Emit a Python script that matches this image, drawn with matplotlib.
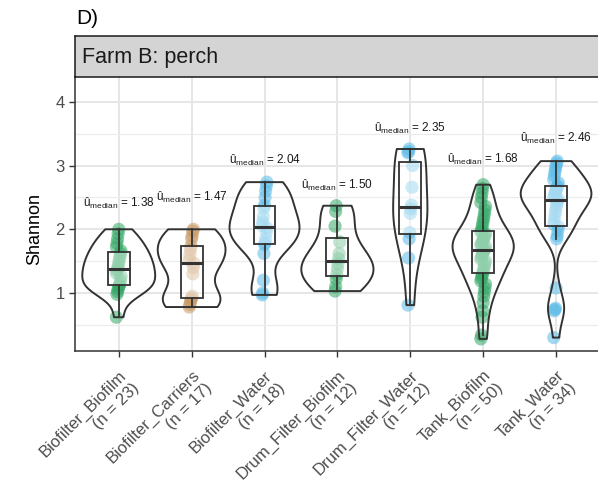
import numpy as np
import matplotlib
import matplotlib.pyplot as plt

matplotlib.use('Agg')

# data (Shannon index per sample)
groups = ["Biofilter_Biofilm", "Biofilter_Carriers", "Biofilter_Water",
          "Drum_Filter_Biofilm", "Drum_Filter_Water", "Tank_Biofilm", "Tank_Water"]

biofilter_biofilm = [0.62, 0.98, 1.02, 1.06, 1.10, 1.12, 1.14, 1.20, 1.26, 1.31, 1.35, 1.38,
                     1.42, 1.47, 1.52, 1.57, 1.62, 1.66, 1.72, 1.78, 1.85, 1.93, 2.00]
biofilter_carriers = [0.78, 0.82, 0.86, 0.90, 0.92, 0.95, 1.30, 1.40, 1.47, 1.52, 1.60, 1.68,
                      1.74, 1.85, 1.90, 1.97, 2.00]
biofilter_water = [0.97, 1.00, 1.20, 1.62, 1.76, 1.79, 1.85, 1.95, 2.02, 2.06, 2.12, 2.20,
                   2.33, 2.38, 2.50, 2.60, 2.68, 2.74]
drum_filter_biofilm = [1.03, 1.10, 1.22, 1.29, 1.38, 1.46, 1.54, 1.62, 1.80, 2.05, 2.28, 2.37]
drum_filter_water = [0.81, 1.55, 1.85, 1.95, 2.25, 2.32, 2.38, 2.66, 3.00, 3.20, 3.22, 3.26]
tank_biofilm = [0.28, 0.34, 0.62, 0.72, 0.85, 0.95, 1.02, 1.08, 1.14, 1.19, 1.23, 1.27,
                1.30, 1.34, 1.38, 1.42, 1.46, 1.50, 1.53, 1.56, 1.59, 1.62, 1.64, 1.66,
                1.67, 1.69, 1.73, 1.75, 1.77, 1.79, 1.81, 1.83, 1.86, 1.88, 1.91, 1.93,
                1.96, 1.975, 2.03, 2.08, 2.13, 2.18, 2.24, 2.30, 2.36, 2.42, 2.50, 2.57,
                2.64, 2.70]
tank_water = [0.30, 0.72, 0.74, 0.76, 1.08, 1.85, 1.90, 1.98, 2.04, 2.08, 2.15, 2.22,
              2.28, 2.34, 2.39, 2.43, 2.45, 2.47, 2.50, 2.53, 2.56, 2.59, 2.61, 2.63,
              2.66, 2.68, 2.73, 2.78, 2.84, 2.90, 2.95, 3.00, 3.04, 3.07]

values = [biofilter_biofilm, biofilter_carriers, biofilter_water, drum_filter_biofilm,
          drum_filter_water, tank_biofilm, tank_water]
medians = [1.38, 1.47, 2.04, 1.50, 2.35, 1.68, 2.46]

# layout: label heights and violin widths as seen in the reference
label_y = [2.40, 2.50, 3.08, 2.69, 3.59, 3.09, 3.43]
violin_width = [1.0, 0.93, 0.96, 0.99, 0.47, 0.84, 0.97]

green = '#33a865'
tan = '#c99a66'
blue = '#5bbbe8'
colors = [green, tan, blue, green, blue, green, blue]

plt.rcParams['font.family'] = ['Liberation Sans', 'DejaVu Sans']
plt.rcParams['mathtext.fontset'] = 'custom'
plt.rcParams['mathtext.rm'] = 'Liberation Sans'
plt.rcParams['mathtext.it'] = 'Liberation Sans'

dark = '#333333'
fig = plt.figure(figsize=(5.98, 4.90), dpi=100)
left, bottom, top = 75 / 598, 1 - 351 / 490, 1 - 77 / 490
width = 1.003 - left
ax = fig.add_axes([left, bottom, width, top - bottom])

pos = np.arange(1, len(groups) + 1)


def nrd0(x):
    q25, q75 = np.percentile(x, [25, 75])
    lo = min(np.std(x, ddof=1), (q75 - q25) / 1.34)
    return 0.9 * lo * len(x) ** -0.2


for i, vals in enumerate(values):
    x = np.asarray(vals)
    k = np.arange(len(x))
    jit = ((k * 37) % 9 - 4) * 0.008
    ax.scatter(pos[i] + jit, x, s=90, color=colors[i], alpha=0.55,
               edgecolors='none', zorder=2)

    # kernel density trimmed to the data range
    bw = nrd0(x)
    ys = np.linspace(x.min(), x.max(), 256)
    d = np.exp(-0.5 * ((ys[:, None] - x[None, :]) / bw) ** 2).sum(axis=1)
    hw = d / d.max() * violin_width[i] / 2
    ax.fill_betweenx(ys, pos[i] - hw, pos[i] + hw, facecolor='none',
                     edgecolor=dark, lw=1.4, zorder=3)

    ax.text(pos[i], label_y[i], 'û$_{\\mathrm{median}}$ = %.2f' % medians[i],
            ha='center', va='center', fontsize=8.5, color='#1a1a1a', zorder=5)

ax.boxplot(values, positions=pos, widths=0.3, showfliers=False, showcaps=False,
           patch_artist=True, zorder=4,
           boxprops=dict(facecolor=(1, 1, 1, 0.45), edgecolor=dark, lw=1.3),
           whiskerprops=dict(color=dark, lw=1.3),
           medianprops=dict(color=dark, lw=2.2))

ax.set_xlim(0.4, 7.6)
ax.set_ylim(0.09, 4.39)
ax.set_xticks(pos)
ax.set_xticklabels(['%s\n(n = %d)' % (g, len(v)) for g, v in zip(groups, values)],
                   rotation=45, ha='right', rotation_mode='anchor',
                   multialignment='right', fontsize=12.5, color='#4d4d4d')
ax.set_yticks([1, 2, 3, 4])
ax.set_yticks([0.5, 1.5, 2.5, 3.5], minor=True)
ax.tick_params(axis='y', which='minor', length=0)
ax.tick_params(which='major', length=4, width=1, color=dark, labelsize=12,
               labelcolor='#4d4d4d')
ax.tick_params(axis='x', pad=8)
ax.grid(True, which='major', color='#e6e6e6', lw=1.4)
ax.grid(True, which='minor', axis='y', color='#ececec', lw=0.9)
ax.set_axisbelow(True)
for s in ['top', 'right']:
    ax.spines[s].set_visible(False)
for s in ['left', 'bottom']:
    ax.spines[s].set_color(dark)
    ax.spines[s].set_linewidth(1.1)

# facet strip
strip = fig.add_axes([left, top, width, (77 - 36) / 490])
strip.set_facecolor('#d4d4d4')
strip.set_xticks([])
strip.set_yticks([])
for s in strip.spines.values():
    s.set_color('#1a1a1a')
    s.set_linewidth(1.1)
strip.text(0.013, 0.47, 'Farm B: perch', transform=strip.transAxes,
           ha='left', va='center', fontsize=15.5, color='#1a1a1a')

fig.text(76 / 598, 1 - 19 / 490, 'D)', ha='left', va='center', fontsize=15)
fig.text(35 / 598, 1 - 229 / 490, 'Shannon', rotation=90, ha='center',
         va='center', fontsize=13)

plt.savefig('out.png', dpi=100)
